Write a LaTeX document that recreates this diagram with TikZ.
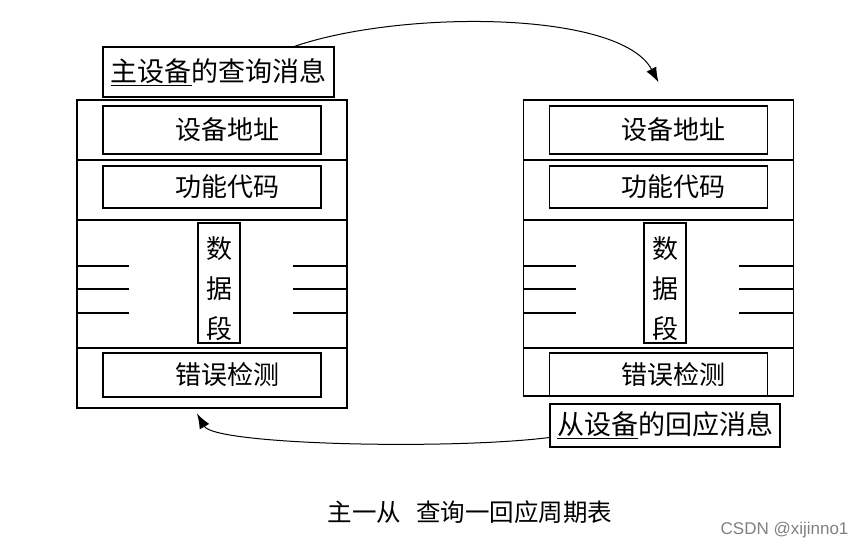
\documentclass[tikz,border=0pt]{standalone}
\usepackage{fontspec}
\setmainfont{Noto Sans CJK SC}
\newfontfamily\markfont{Liberation Sans}
\usepackage{tikz}
\usetikzlibrary{arrows.meta, positioning}
\tikzstyle{frame} = [rectangle, draw=black, line width=1.2pt, minimum width=270pt, inner sep=0pt]
\tikzstyle{field} = [rectangle, draw=black, line width=1.2pt, minimum width=218pt, inner sep=0pt, font=\fontsize{26}{30}\selectfont]
\tikzstyle{datacol} = [rectangle, draw=black, line width=1.2pt, minimum width=42pt, minimum height=120pt, inner sep=0pt]
\tikzstyle{datatext} = [align=center, inner sep=0pt, font=\fontsize{26}{40}\selectfont]
\tikzstyle{msg} = [rectangle, draw=black, line width=1.2pt, inner sep=0pt, font=\fontsize{27}{30}\selectfont]
\tikzstyle{arrow} = [line width=1pt, ->, >={Latex[length=15pt,width=11pt]}]

\begin{document}
\begin{tikzpicture}[x=1pt, y=-1pt]
	\useasboundingbox (0,0) rectangle (866,540);
	
	% Master frame
	\node (lframe) [frame, minimum height=308pt] at (212,254) {};
	\node (laddr) [field, minimum height=48pt] at (212,130) {\hspace{30pt}设备地址};
	\node (lfunc) [field, minimum height=42pt] at (212,187) {\hspace{30pt}功能代码};
	\node (ldata) [datacol] at (219,283) {};
	\node (ldatatext) [datatext] at ([yshift=-6pt]ldata.center) {数\\据\\段};
	\node (lcheck) [field, minimum height=44pt] at (212,375) {\hspace{30pt}错误检测};
	
	% Slave frame
	\node (rframe) [frame, minimum height=296pt] at (658.5,248) {};
	\node (raddr) [field, minimum height=48pt] at (658.5,130) {\hspace{30pt}设备地址};
	\node (rfunc) [field, minimum height=42pt] at (658.5,187) {\hspace{30pt}功能代码};
	\node (rdata) [datacol] at (665,283) {};
	\node (rdatatext) [datatext] at ([yshift=-6pt]rdata.center) {数\\据\\段};
	\node (rcheck) [field, minimum height=43pt] at (658.5,374.5) {\hspace{30pt}错误检测};
	
	% Dividers and data lines
	\foreach \y in {160,220,348} {
		\draw [line width=1.2pt] (lframe.west |- 0,\y) -- (lframe.east |- 0,\y);
		\draw [line width=1.2pt] (rframe.west |- 0,\y) -- (rframe.east |- 0,\y);
	}
	\foreach \y in {266,289,313} {
		\draw [line width=1.2pt] (lframe.west |- 0,\y) -- ++(53,0);
		\draw [line width=1.2pt] (lframe.east |- 0,\y) -- ++(-55,0);
		\draw [line width=1.2pt] (rframe.west |- 0,\y) -- ++(53,0);
		\draw [line width=1.2pt] (rframe.east |- 0,\y) -- ++(-55,0);
	}
	
	% Messages
	\node (qmsg) [msg, minimum width=231pt, minimum height=50pt] at (218.5,72) {\underline{主设备}的查询消息};
	\node (rmsg) [msg, minimum width=230pt, minimum height=43pt] at (665,425.5) {\underline{从设备}的回应消息};
	
	% Arrows
	\draw [arrow] ([xshift=76pt]qmsg.north) .. controls (400,10) and (620,10) .. ([yshift=17pt]rframe.north);
	\draw [arrow] ([yshift=-12pt]rmsg.west) .. controls (450,450) and (215,445) .. ([xshift=-15pt,yshift=-5pt]lframe.south);
	
	% Caption
	\node (caption) [font=\fontsize{24.5}{28}\selectfont] at (470,512) {主一从\hspace{15pt}查询一回应周期表};
	\node (mark) [anchor=east, text=gray, font=\markfont\fontsize{17}{19}\selectfont] at (852,530) {CSDN @xijinno1};
	
\end{tikzpicture}
\end{document}
